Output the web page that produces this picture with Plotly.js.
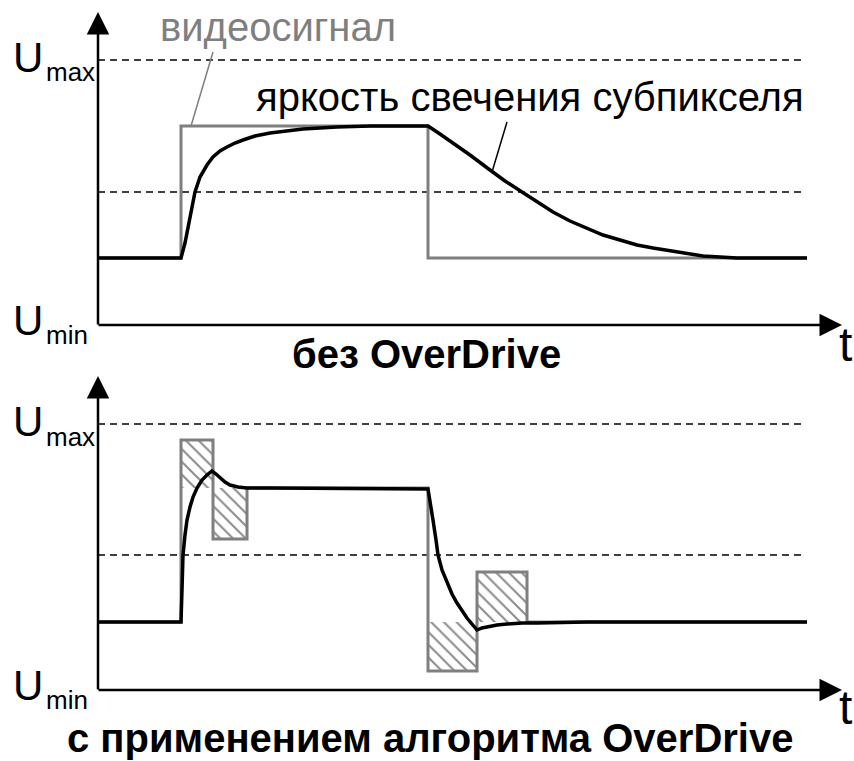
<!DOCTYPE html>
<html>
<head>
<meta charset="utf-8">
<script src="https://cdn.plot.ly/plotly-3.0.1.min.js"></script>
<style>html,body{margin:0;padding:0;background:#fff}#chart{width:854px;height:761px}</style>
</head>
<body>
<div id="chart"></div>
<script>
// ---------- DATA (time t in arbitrary units, level U in arbitrary units) ----------
// Top panel: without OverDrive
var topSignalT = [0, 83, 83, 330, 330, 709];
var topSignalU = [67, 67, 199, 199, 67, 67];
var topRespT = [0, 83, 87, 92, 97, 102, 109, 115, 122, 129, 137, 145, 157, 172, 189, 205, 222, 239, 272, 330,
                342, 355, 372, 392, 407, 424, 439, 455, 472, 489, 505, 522, 539, 555, 572, 589, 605, 622, 639, 709];
var topRespU = [67, 67, 82, 108, 133, 148, 160, 168, 174, 178, 182, 185, 189, 192, 194, 196, 197, 198, 199, 199,
                191, 182, 170, 155, 144, 133, 123, 113, 104, 97, 90, 85, 80, 77, 74, 71, 69, 68, 67, 67];
var topLevels = [265, 133];           // Umax and middle dashed reference levels

// Bottom panel: with OverDrive
var botSignalT = [0, 83, 83, 115, 115, 149, 149, 330, 330, 379, 379, 429, 429, 709];
var botSignalU = [68, 68, 250, 250, 151, 151, 202, 202, 19, 19, 118, 118, 68, 68];
var botRespT = [0, 83, 84, 85, 87, 89, 92, 95, 99, 104, 109, 114, 118, 122, 127, 132, 140, 149, 172, 330,
                332, 335, 338, 340, 344, 349, 354, 359, 364, 369, 374, 379, 384, 389, 399, 409, 424, 439, 489, 709];
var botRespU = [68, 68, 100, 135, 155, 170, 183, 193, 202, 210, 215, 219, 216, 212, 208, 205, 203, 202, 202, 201,
                190, 170, 150, 135, 120, 107, 96, 87, 79, 72, 66, 60, 62, 63, 65, 66, 67, 67, 68, 68];
var botLevels = [266, 135];
// Hatched overdrive boxes: start, end, upper, lower
var boxT0 = [83, 115, 330, 379];
var boxT1 = [115, 149, 379, 429];
var boxHi = [250, 202, 68, 118];
var boxLo = [202, 151, 19, 68];

var levelSpanT = [0, 708];

// Labels
var lblSignal = 'видеосигнал';
var lblResp = 'яркость свечения субпикселя';
var titleTop = 'без OverDrive';
var titleBot = 'с применением алгоритма OverDrive';

// ---------- BUILD ----------
var GRAY = '#7f7f7f';
var traces = [];
function levelTrace(u, ya) {
  return {x: levelSpanT, y: [u, u], xaxis: 'x', yaxis: ya, mode: 'lines',
    line: {color: '#000', width: 1.3, dash: '7px,5px'}, hoverinfo: 'skip', showlegend: false};
}
topLevels.forEach(function (u) { traces.push(levelTrace(u, 'y')); });
botLevels.forEach(function (u) { traces.push(levelTrace(u, 'y2')); });

for (var i = 0; i < boxT0.length; i++) {
  traces.push({
    x: [boxT0[i], boxT1[i], boxT1[i], boxT0[i], boxT0[i]],
    y: [boxHi[i], boxHi[i], boxLo[i], boxLo[i], boxHi[i]],
    xaxis: 'x', yaxis: 'y2', mode: 'lines', fill: 'toself',
    fillcolor: 'rgba(0,0,0,0)',
    fillpattern: {shape: '\\', fgcolor: '#8a8a8a', bgcolor: 'rgba(255,255,255,0)', size: 9, solidity: 0.22},
    line: {width: 0}, hoverinfo: 'skip', showlegend: false
  });
}

traces.push({x: topSignalT, y: topSignalU, xaxis: 'x', yaxis: 'y', mode: 'lines',
  line: {color: GRAY, width: 3}, showlegend: false});
traces.push({x: botSignalT, y: botSignalU, xaxis: 'x', yaxis: 'y2', mode: 'lines',
  line: {color: GRAY, width: 3}, showlegend: false});
traces.push({x: topRespT, y: topRespU, xaxis: 'x', yaxis: 'y', mode: 'lines',
  line: {color: '#000', width: 3.5}, showlegend: false});
traces.push({x: botRespT, y: botRespU, xaxis: 'x', yaxis: 'y2', mode: 'lines',
  line: {color: '#000', width: 3.5}, showlegend: false});

// pixel helpers for decorations
var L = 98, PW = 740, H = 761;
function PX(px) { return (px - L) / PW; }
function PY(py) { return (H - py) / H; }
var FN = '"Liberation Sans", Arial, sans-serif';

function axisArrow(x0, y0, x1, y1) {
  return {xref: 'paper', yref: 'paper', x: PX(x1), y: PY(y1), ax: x0 - x1, ay: y0 - y1,
    axref: 'pixel', ayref: 'pixel', showarrow: true, arrowhead: 2, arrowsize: 1.8,
    arrowwidth: 2.5, arrowcolor: '#000', text: ''};
}
function txt(t, px, py, size, color, bold, xanchor) {
  return {xref: 'paper', yref: 'paper', x: PX(px), y: PY(py), text: bold ? '<b>' + t + '</b>' : t,
    showarrow: false, xanchor: xanchor || 'center', yanchor: 'middle',
    font: {family: FN, size: size, color: color}};
}
var annotations = [
  axisArrow(98, 326, 98, 12),
  axisArrow(97, 325, 842, 325),
  axisArrow(98, 691, 98, 376),
  axisArrow(97, 690, 842, 690),
  txt(lblSignal, 278, 27, 40, GRAY),
  txt(lblResp, 530, 97, 40, '#000'),
  txt('U', 28, 57, 42, '#000'),
  txt('max', 44, 72, 26, '#000', false, 'left'),
  txt('U', 28, 320, 42, '#000'),
  txt('min', 44, 335, 26, '#000', false, 'left'),
  txt('U', 28, 421, 42, '#000'),
  txt('max', 44, 437, 26, '#000', false, 'left'),
  txt('U', 28, 685, 42, '#000'),
  txt('min', 44, 700, 26, '#000', false, 'left'),
  txt('t', 845, 344, 48, '#000'),
  txt('t', 845, 707, 48, '#000'),
  txt(titleTop, 426, 354, 40, '#000', true),
  txt(titleBot, 430, 738, 40, '#000', true)
];
var shapes = [
  {type: 'line', xref: 'paper', yref: 'paper', x0: PX(213), y0: PY(52), x1: PX(191), y1: PY(126), line: {color: GRAY, width: 1.5}},
  {type: 'line', xref: 'paper', yref: 'paper', x0: PX(507), y0: PY(122), x1: PX(492), y1: PY(172), line: {color: '#000', width: 1.5}}
];

var ax = {showgrid: false, zeroline: false, showticklabels: false, ticks: '', showline: false};
var layout = {
  width: 854, height: 761, margin: {l: L, r: 854 - L - PW, t: 0, b: 0},
  paper_bgcolor: '#fff', plot_bgcolor: 'rgba(0,0,0,0)', showlegend: false,
  xaxis: Object.assign({range: [0, PW], domain: [0, 1], anchor: 'y2'}, ax),
  yaxis: Object.assign({range: [0, 310], domain: [(H - 325) / H, (H - 15) / H], anchor: 'x'}, ax),
  yaxis2: Object.assign({range: [0, 312], domain: [(H - 690) / H, (H - 378) / H], anchor: 'x'}, ax),
  annotations: annotations, shapes: shapes, hovermode: false
};
Plotly.newPlot('chart', traces, layout, {staticPlot: true, displayModeBar: false});
</script>
</body>
</html>
